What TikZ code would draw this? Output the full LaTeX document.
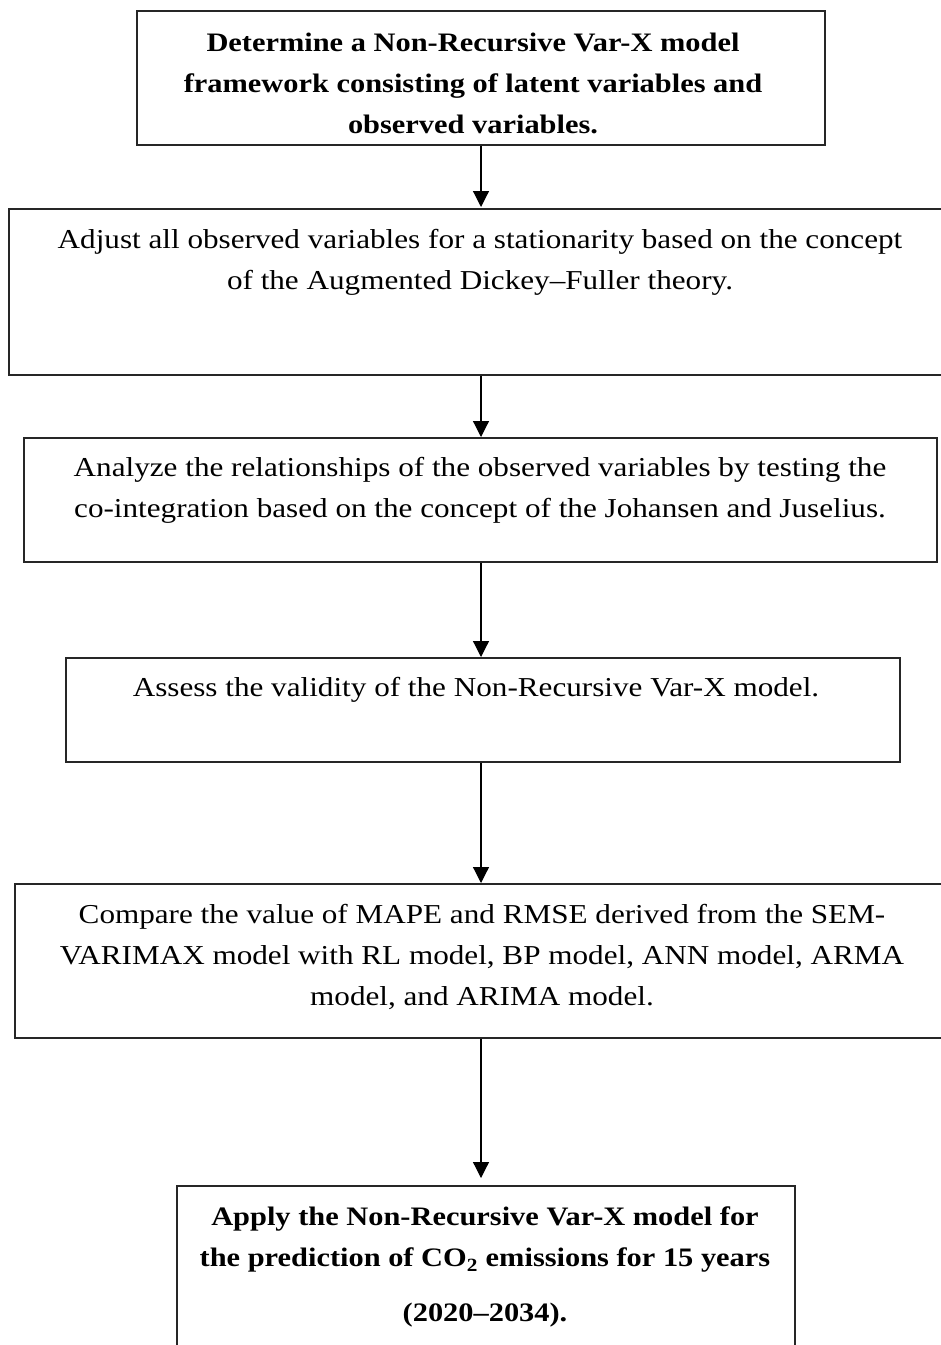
\documentclass[tikz,border=0pt]{standalone}
\usepackage{fontspec}
\setmainfont{Liberation Serif}[FakeStretch=1.14]
\usetikzlibrary{arrows.meta}
\begin{document}
\begin{tikzpicture}[x=0.75pt,y=-0.75pt,
  box/.style={draw=black!85, line width=1.1pt, rectangle, inner sep=0pt},
  txt/.style={align=center, font=\fontsize{20.5pt}{30.75pt}\selectfont, inner sep=0pt, text=black},
  btxt/.style={txt, font=\fontsize{20pt}{30.75pt}\selectfont\bfseries},
  arr/.style={line width=0.9pt, -{Triangle[length=12pt,width=12pt]}}]
\useasboundingbox (0,0) rectangle (940,1345);
\fill[white] (0,0) rectangle (940,1345);
% boxes
\node[box, minimum width=688*0.75pt, minimum height=134*0.75pt] (b1) at (481,78) {};
\node[box, minimum width=940*0.75pt, minimum height=166*0.75pt] (b2) at (479,292) {};
\node[box, minimum width=913*0.75pt, minimum height=124*0.75pt] (b3) at (480.5,500) {};
\node[box, minimum width=834*0.75pt, minimum height=104*0.75pt] (b4) at (483,710) {};
\node[box, minimum width=935*0.75pt, minimum height=154*0.75pt] (b5) at (482.5,961) {};
\node[box, minimum width=618*0.75pt, minimum height=180*0.75pt] (b6) at (486,1276) {};
% texts
\node[btxt] (t1) at (473,83) {Determine a Non-Recursive Var-X model\\framework consisting of latent variables and\\observed variables.};
\node[txt] (t2) at (480,262) {Adjust all observed variables for a stationarity based on the concept\\of the Augmented Dickey--Fuller theory.};
\node[txt] (t3) at (480,490) {Analyze the relationships of the observed variables by testing the\\co-integration based on the concept of the Johansen and Juselius.};
\node[txt] (t4) at (476,690) {Assess the validity of the Non-Recursive Var-X model.};
\node[txt] (t5) at (482,957) {Compare the value of MAPE and RMSE derived from the SEM-\\VARIMAX model with RL model, BP model, ANN model, ARMA\\model, and ARIMA model.};
\node[btxt] (t6) at (485,1267) {Apply the Non-Recursive Var-X model for\\the prediction of CO\textsubscript{2} emissions for 15 years\\[10pt](2020--2034).};
% arrows
\draw[arr] (b1.south -| 481,0) -- (481,207);
\draw[arr] (b2.south -| 481,0) -- (481,437);
\draw[arr] (b3.south -| 481,0) -- (481,657);
\draw[arr] (b4.south -| 481,0) -- (481,883);
\draw[arr] (b5.south -| 481,0) -- (481,1178);
\end{tikzpicture}
\end{document}
